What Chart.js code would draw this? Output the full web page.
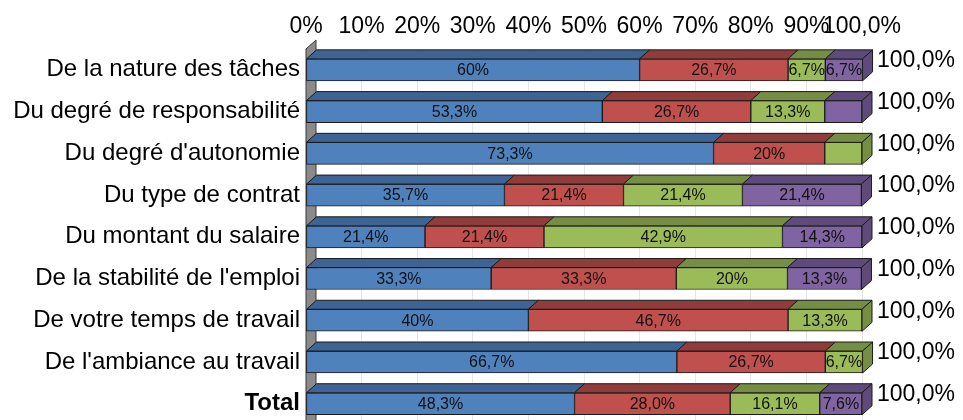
<!DOCTYPE html>
<html>
<head>
<meta charset="utf-8">
<script src="https://cdn.jsdelivr.net/npm/chart.js@4.4.1/dist/chart.umd.min.js"></script>
<style>
  html, body { margin: 0; padding: 0; background: #fff; overflow: hidden; }
</style>
</head>
<body>
<canvas id="chart" width="963" height="445"></canvas>
<script>
const categories = [
  'De la nature des tâches',
  'Du degré de responsabilité',
  "Du degré d'autonomie",
  'Du type de contrat',
  'Du montant du salaire',
  "De la stabilité de l'emploi",
  'De votre temps de travail',
  "De l'ambiance au travail",
  'Total'
]
const serie1 = [60, 53.3, 73.3, 35.7, 21.4, 33.3, 40, 66.7, 48.3]
const serie2 = [26.7, 26.7, 20, 21.4, 21.4, 33.3, 46.7, 26.7, 28.0]
const serie3 = [6.7, 13.3, 6.7, 21.4, 42.9, 20, 13.3, 6.7, 16.1]
const serie4 = [6.7, 6.7, 0, 21.4, 14.3, 13.3, 0, 0, 7.6]
const rowTotals = [100, 100, 100, 100, 100, 100, 100, 100, 100]
const xTicks = [0, 10, 20, 30, 40, 50, 60, 70, 80, 90, 100]
// [row, serie] pairs whose value label is not shown
const hiddenLabels = [[1, 3], [2, 2]]

const frontColors = ['#4F81BD', '#C0504D', '#9BBB59', '#8064A2']
const topColors = ['#3D6494', '#903C3A', '#758E43', '#5F4B7B']
const FONT = 'Liberation Sans, Arial, sans-serif'
const DX = 10
const DY = 9

function fmtValue(v, row) {
  if (row == categories.length - 1) return v.toFixed(1).replace('.', ',') + '%'
  return String(v).replace('.', ',') + '%'
}

function isHidden(row, ds) {
  for (const h of hiddenLabels) {
    if (h[0] == row && h[1] == ds) return true
  }
  return false
}

function poly(ctx, pts, fill) {
  ctx.beginPath()
  ctx.moveTo(pts[0][0], pts[0][1])
  for (let i = 1; i < pts.length; i++) ctx.lineTo(pts[i][0], pts[i][1])
  ctx.closePath()
  ctx.fillStyle = fill
  ctx.fill()
  ctx.stroke()
}

const bars3d = {
  id: 'bars3d',
  beforeDatasetsDraw(chart) {
    // grey side wall along the 0% axis
    const ctx = chart.ctx
    const area = chart.chartArea
    const x0 = chart.scales.x.getPixelForValue(0)
    ctx.save()
    ctx.strokeStyle = '#3a3a3a'
    ctx.lineWidth = 1
    poly(ctx, [[x0, area.top], [x0 + DX, area.top - DY], [x0 + DX, chart.height + 5], [x0, chart.height + 5]], '#8a8a8a')
    ctx.restore()
  },
  afterDatasetsDraw(chart) {
    const ctx = chart.ctx
    const sets = chart.data.datasets
    ctx.save()
    ctx.strokeStyle = '#1a1a1a'
    ctx.lineWidth = 1
    for (let i = 0; i < categories.length; i++) {
      let last = -1
      for (let d = 0; d < sets.length; d++) {
        if (sets[d].data[i] > 0) last = d
      }
      for (let d = 0; d < sets.length; d++) {
        if (!(sets[d].data[i] > 0)) continue
        const el = chart.getDatasetMeta(d).data[i]
        const p = el.getProps(['x', 'y', 'base', 'height'], true)
        const top = p.y - p.height / 2
        const bottom = p.y + p.height / 2
        poly(ctx, [[p.base, top], [p.base + DX, top - DY], [p.x + DX, top - DY], [p.x, top]], topColors[d])
        if (d == last) {
          poly(ctx, [[p.x, top], [p.x + DX, top - DY], [p.x + DX, bottom - DY], [p.x, bottom]], topColors[d])
        }
      }
    }
    // value labels inside the bars
    ctx.font = '16px ' + FONT
    ctx.fillStyle = '#111'
    ctx.textAlign = 'center'
    ctx.textBaseline = 'middle'
    for (let d = 0; d < sets.length; d++) {
      const meta = chart.getDatasetMeta(d)
      for (let i = 0; i < categories.length; i++) {
        const v = sets[d].data[i]
        if (!(v > 0) || isHidden(i, d)) continue
        const p = meta.data[i].getProps(['x', 'y', 'base'], true)
        ctx.fillText(fmtValue(v, i), (p.x + p.base) / 2, p.y + 1)
      }
    }
    // row totals on the right
    const xs = chart.scales.x
    const ys = chart.scales.y
    ctx.font = '23px ' + FONT
    ctx.fillStyle = '#000'
    ctx.textAlign = 'left'
    for (let i = 0; i < categories.length; i++) {
      const y = ys.getPixelForValue(i)
      ctx.fillText(rowTotals[i].toFixed(1).replace('.', ',') + '%', xs.getPixelForValue(100) + 15, y - 9)
    }
    ctx.restore()
  }
}

function createChart() {
  const data = [serie1, serie2, serie3, serie4]
  const ctx = document.getElementById('chart').getContext('2d')
  const chart = new Chart(ctx, {
    type: 'bar',
    data: {
      labels: categories,
      datasets: data.map((values, k) => ({
        label: 'Série ' + (k + 1),
        data: values,
        backgroundColor: frontColors[k],
        borderColor: '#1a1a1a',
        borderWidth: 1,
        borderSkipped: false,
        barThickness: 22
      }))
    },
    options: {
      indexAxis: 'y',
      responsive: false,
      animation: false,
      devicePixelRatio: 1,
      layout: { padding: { left: 0, right: 101, top: 0, bottom: 10 } },
      plugins: {
        legend: { display: false },
        tooltip: { enabled: false }
      },
      scales: {
        x: {
          type: 'linear',
          position: 'top',
          stacked: true,
          min: 0,
          max: 100,
          afterBuildTicks: (s) => { s.ticks = xTicks.map(v => ({ value: v })) },
          afterFit: (s) => { s.height = 49 },
          ticks: {
            autoSkip: false,
            maxRotation: 0,
            padding: 9,
            color: '#000',
            font: { family: FONT, size: 23 },
            callback: (v) => v == 100 ? '100,0%' : v + '%'
          },
          grid: { color: '#e6e6e6', drawTicks: false },
          border: { display: false }
        },
        y: {
          stacked: true,
          afterFit: (s) => { s.width = 306 },
          ticks: {
            padding: 6,
            color: '#000',
            font: (c) => ({ family: FONT, size: 24, weight: c.index == categories.length - 1 ? 'bold' : 'normal' })
          },
          grid: { display: false, drawTicks: false },
          border: { display: false }
        }
      }
    },
    plugins: [bars3d]
  })
}

createChart()
</script>
</body>
</html>
